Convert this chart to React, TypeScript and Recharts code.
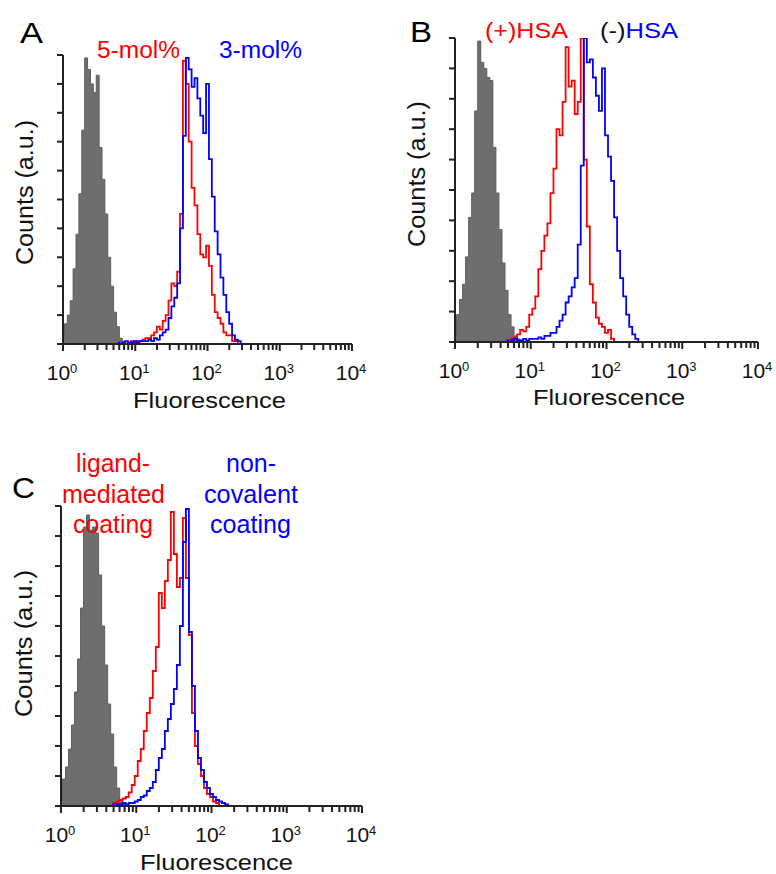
import React from "react"
import { ComposedChart, Area, Line, XAxis, YAxis } from "recharts"

// histogram bins, in decades of log10(fluorescence)
const BIN = 0.04

const decades = [0, 1, 2, 3, 4]
const minorMults = [2, 3, 4, 5, 6, 7, 8, 9]
const countTicks = [0, 10, 20, 30, 40, 50, 60, 70, 80, 90, 100]

// panel A
const grayStartA = 0
const grayA = [2, 7, 10, 15, 26, 38, 52, 74, 99, 95, 90, 87, 93, 68, 57, 45, 30, 20, 11, 6, 2, 1, 0]
const redStartA = 0.8
const redA = [0, 0.5, 0, 0.5, 1, 0.5, 1, 1, 1.5, 2, 2, 3, 4, 6, 5, 8, 10, 15, 21, 20, 25, 45, 98, 90, 70, 54, 48, 38, 31, 30, 34, 27, 17, 11, 9, 7, 4, 3, 3, 1, 1, 0]
const blueStartA = 0.76
const blueA = [0.5, 0, 0.5, 1, 0.5, 0.5, 1, 0.5, 1, 1, 1, 1.5, 1, 2, 1.5, 3, 4, 5, 9, 13, 16, 21, 40, 72, 99, 95, 89, 92, 85, 79, 73, 90, 64, 51, 39, 31, 23, 17, 11, 7, 3, 1.5, 1, 0]

// panel B
const grayStartB = 0
const grayB = [2, 9, 14, 19, 28, 41, 49, 76, 99, 92, 90, 87, 86, 64, 49, 37, 26, 17, 9, 5, 2, 1, 0]
const redStartB = 0.68
const redB = [0.5, 0.5, 1, 1.5, 2.5, 4, 3.5, 5, 9, 11, 15, 24, 30, 35, 39, 49, 57, 70, 68, 79, 97, 84, 86, 75, 79, 100, 60, 38, 19, 13, 8, 6, 5, 3, 4, 1, 0]
const blueStartB = 0.68
const blueB = [0.5, 0, 0.5, 1, 0.5, 0.5, 1, 0.5, 1, 1, 1, 1.5, 1, 2, 2, 3, 3, 5, 7, 9, 13, 15, 18, 21, 32, 58, 100, 92, 93, 87, 81, 76, 90, 68, 61, 53, 41, 30, 21, 15, 9, 5, 2.5, 1, 0]

// panel C
const grayStartC = 0
const grayC = [2, 9, 13, 19, 27, 38, 49, 66, 93, 97, 92, 93, 91, 77, 60, 47, 34, 24, 13, 6, 2, 1, 0]
const redStartC = 0.68
const redC = [0.5, 1, 1.5, 2, 2.5, 3, 4.5, 7, 10, 15, 19, 25, 31, 36, 45, 53, 71, 66, 75, 82, 98, 84, 73, 76, 96, 76, 57, 31, 20, 14, 10, 6, 4, 3, 1.5, 1, 0]
const blueStartC = 0.68
const blueC = [0.5, 0, 0.5, 0.5, 1, 0.5, 1, 1, 1.5, 2, 3, 3.5, 5, 6, 8, 12, 16, 19, 25, 29, 34, 39, 47, 60, 88, 99, 58, 40, 25, 16, 12, 8, 6, 4, 3, 2, 1.5, 1, 0.5, 0]

const W = 776
const H = 874
const FONT = '"Liberation Sans", Arial, Helvetica, sans-serif'
const AXIS = "#222"

const bins = (start: number, values: number[]) =>
  values.map((v, i) => ({ d: +(start + i * BIN).toFixed(3), v }))

const xTicks = [
  ...decades,
  ...decades.slice(0, 4).flatMap((d) => minorMults.map((m) => d + Math.log10(m))),
].sort((a, b) => a - b)

// each tick draws its own short mark under the axis line; decades also get a label
function XTick(props: any) {
  const { x, y, payload, maxX, axisY } = props
  const value = payload.value
  const major = Math.abs(value - Math.round(value)) < 1e-6
  const cx = Math.min(x - 1, maxX)
  return (
    <g>
      <rect x={x - 1} y={axisY} width={2} height={major ? 7 : 6} fill={AXIS} />
      {major && (
        <text x={cx} y={axisY + 36} textAnchor="middle" fontSize={21} fill="#111" fontFamily={FONT}>
          10<tspan dy={-7} fontSize={13}>{Math.round(value)}</tspan>
        </text>
      )}
    </g>
  )
}

function YTick(props: any) {
  const { x, y } = props
  return <rect x={x - 6} y={y - 1} width={6} height={2} fill={AXIS} />
}

interface Frame { x: number; y: number; w: number; h: number }
interface Box { left: number; top: number; right: number; bottom: number }

function Histogram({ frame, box, gray, red, blue }: { frame: Frame; box: Box; gray: any[]; red: any[]; blue: any[] }) {
  const l = box.left - frame.x
  const t = box.top - frame.y
  const r = frame.x + frame.w - box.right
  const b = frame.y + frame.h - box.bottom
  const axisY = box.bottom - frame.y
  return (
    <div style={{ position: "absolute", left: frame.x, top: frame.y, width: frame.w, height: frame.h }}>
      <ComposedChart width={frame.w} height={frame.h} margin={{ top: t, left: l - 10, right: r, bottom: b - 40 }}>
        <XAxis
          type="number"
          dataKey="d"
          domain={[0, 4]}
          ticks={xTicks}
          interval={0}
          allowDataOverflow
          height={40}
          tickSize={0}
          tickMargin={0}
          tickLine={false}
          axisLine={{ stroke: AXIS, strokeWidth: 2 }}
          tick={(p: any) => <XTick {...p} maxX={frame.w - 17} axisY={axisY} />}
        />
        <YAxis
          type="number"
          domain={[0, 100]}
          ticks={countTicks}
          interval={0}
          allowDataOverflow
          width={10}
          tickSize={0}
          tickMargin={0}
          tickLine={false}
          axisLine={{ stroke: AXIS, strokeWidth: 2 }}
          tick={(p: any) => <YTick {...p} />}
        />
        <Area
          data={gray}
          dataKey="v"
          type="step"
          fill="#6e6e6e"
          fillOpacity={1}
          stroke="#5e5e5e"
          strokeWidth={1}
          dot={false}
          activeDot={false}
          isAnimationActive={false}
        />
        <Line data={red} dataKey="v" type="step" stroke="#ff0000" strokeWidth={1.8} dot={false} activeDot={false} isAnimationActive={false} />
        <Line data={blue} dataKey="v" type="step" stroke="#0000ff" strokeWidth={1.8} dot={false} activeDot={false} isAnimationActive={false} />
      </ComposedChart>
    </div>
  )
}

function Labels() {
  const t = { fontFamily: FONT }
  return (
    <svg width={W} height={H} style={{ position: "absolute", left: 0, top: 0, pointerEvents: "none" }}>
      {/* A */}
      <text {...t} x={20} y={43} fontSize={30} textLength={23} lengthAdjust="spacingAndGlyphs" fill="#000">A</text>
      <text {...t} x={97} y={58} fontSize={23} textLength={83} lengthAdjust="spacingAndGlyphs" fill="#ff0000">5-mol%</text>
      <text {...t} x={219} y={58} fontSize={23} textLength={83} lengthAdjust="spacingAndGlyphs" fill="#0000ff">3-mol%</text>
      <text {...t} transform="translate(33,192.5) rotate(-90)" textAnchor="middle" fontSize={23} textLength={145} lengthAdjust="spacingAndGlyphs" fill="#111">Counts (a.u.)</text>
      <text {...t} x={133} y={408} fontSize={22} textLength={153} lengthAdjust="spacingAndGlyphs" fill="#111">Fluorescence</text>

      {/* B */}
      <text {...t} x={410} y={42} fontSize={30} textLength={22} lengthAdjust="spacingAndGlyphs" fill="#000">B</text>
      <text {...t} x={485} y={38} fontSize={22} textLength={83} lengthAdjust="spacingAndGlyphs" fill="#ff0000">(+)HSA</text>
      <text {...t} x={600} y={38} fontSize={22} textLength={78} lengthAdjust="spacingAndGlyphs">
        <tspan fill="#111">(-)</tspan>
        <tspan fill="#0000ff">HSA</tspan>
      </text>
      <text {...t} transform="translate(425,174) rotate(-90)" textAnchor="middle" fontSize={23} textLength={146} lengthAdjust="spacingAndGlyphs" fill="#111">Counts (a.u.)</text>
      <text {...t} x={533} y={405} fontSize={22} textLength={152} lengthAdjust="spacingAndGlyphs" fill="#111">Fluorescence</text>

      {/* C */}
      <text {...t} x={12} y={498} fontSize={30} textLength={23} lengthAdjust="spacingAndGlyphs" fill="#000">C</text>
      <text {...t} x={113} y={472} textAnchor="middle" fontSize={25} textLength={74} lengthAdjust="spacingAndGlyphs" fill="#ff0000">ligand-</text>
      <text {...t} x={113.5} y={503} textAnchor="middle" fontSize={25} textLength={103} lengthAdjust="spacingAndGlyphs" fill="#ff0000">mediated</text>
      <text {...t} x={113} y={533} textAnchor="middle" fontSize={25} textLength={80} lengthAdjust="spacingAndGlyphs" fill="#ff0000">coating</text>
      <text {...t} x={251} y={472} textAnchor="middle" fontSize={25} textLength={50} lengthAdjust="spacingAndGlyphs" fill="#0000ff">non-</text>
      <text {...t} x={251} y={503} textAnchor="middle" fontSize={25} textLength={94} lengthAdjust="spacingAndGlyphs" fill="#0000ff">covalent</text>
      <text {...t} x={250.5} y={533} textAnchor="middle" fontSize={25} textLength={81} lengthAdjust="spacingAndGlyphs" fill="#0000ff">coating</text>
      <text {...t} transform="translate(32,643.5) rotate(-90)" textAnchor="middle" fontSize={23} textLength={147} lengthAdjust="spacingAndGlyphs" fill="#111">Counts (a.u.)</text>
      <text {...t} x={140} y={870} fontSize={22} textLength={153} lengthAdjust="spacingAndGlyphs" fill="#111">Fluorescence</text>
    </svg>
  )
}

export default function App() {
  return (
    <div style={{ position: "absolute", left: 0, top: 0, width: W, height: H, background: "#fff", overflow: "hidden" }}>
      <Histogram
        frame={{ x: 0, y: 0, w: 385, h: 430 }}
        box={{ left: 63, top: 55, right: 352, bottom: 344 }}
        gray={bins(grayStartA, grayA)}
        red={bins(redStartA, redA)}
        blue={bins(blueStartA, blueA)}
      />
      <Histogram
        frame={{ x: 385, y: 0, w: 391, h: 430 }}
        box={{ left: 455, top: 38, right: 758, bottom: 342 }}
        gray={bins(grayStartB, grayB)}
        red={bins(redStartB, redB)}
        blue={bins(blueStartB, blueB)}
      />
      <Histogram
        frame={{ x: 0, y: 430, w: 385, h: 444 }}
        box={{ left: 61, top: 506, right: 362, bottom: 806 }}
        gray={bins(grayStartC, grayC)}
        red={bins(redStartC, redC)}
        blue={bins(blueStartC, blueC)}
      />
      <Labels />
    </div>
  )
}
